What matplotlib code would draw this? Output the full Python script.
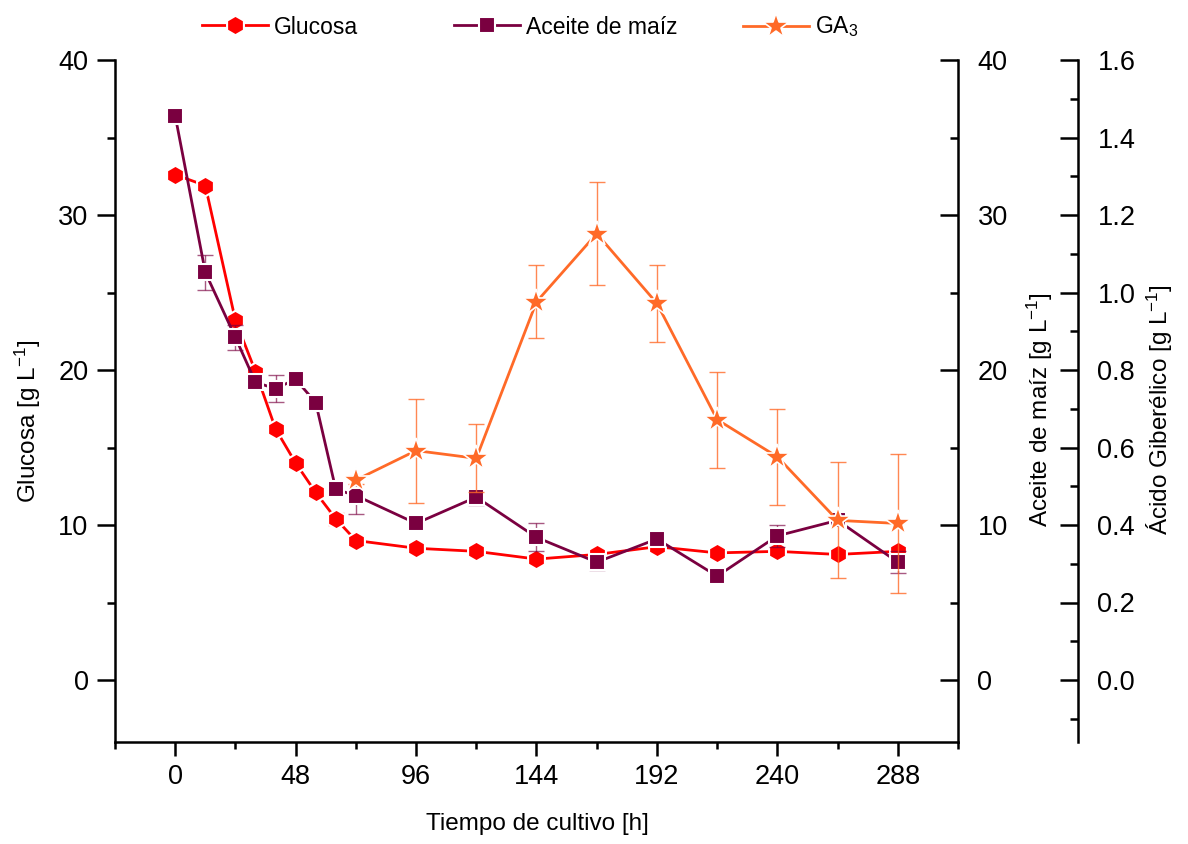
import matplotlib
matplotlib.use('Agg')
import matplotlib.pyplot as plt
from matplotlib.ticker import MultipleLocator
from matplotlib import font_manager as fm
from matplotlib.lines import Line2D

# ---------------- data ----------------
time_h = [0, 12, 24, 32, 40, 48, 56, 64, 72, 96, 120, 144, 168, 192, 216, 240, 264, 288]
glucosa = [32.6, 31.9, 23.2, 19.9, 16.2, 14.0, 12.1, 10.4, 9.0, 8.5, 8.3, 7.8, 8.1, 8.6, 8.2, 8.3, 8.1, 8.3]
glucosa_err = [0.1, 0.1, 0.2, 0.1, 0.1, 0.1, 0.1, 0.4, 0.1, 0.1, 0.1, 0.1, 0.1, 0.1, 0.1, 0.1, 0.1, 0.1]
aceite = [36.4, 26.3, 22.1, 19.2, 18.8, 19.4, 17.9, 12.3, 11.9, 10.1, 11.8, 9.2, 7.6, 9.1, 6.7, 9.3, 10.3, 7.6]
aceite_err = [0.1, 1.15, 0.8, 0.4, 0.85, 0.2, 0.2, 0.2, 1.2, 0.3, 0.5, 0.9, 0.5, 0.3, 0.2, 0.7, 0.3, 0.7]
ga_time = [72, 96, 120, 144, 168, 192, 216, 240, 264, 288]
ga3 = [0.516, 0.592, 0.572, 0.976, 1.152, 0.972, 0.672, 0.576, 0.412, 0.404]
ga3_err = [0.01, 0.134, 0.088, 0.094, 0.132, 0.10, 0.124, 0.124, 0.15, 0.18]

x_ticks = [0, 48, 96, 144, 192, 240, 288]
y_ticks = [0, 10, 20, 30, 40]
ga_ticks = [0.0, 0.2, 0.4, 0.6, 0.8, 1.0, 1.2, 1.4, 1.6]

# ---------------- fonts ----------------
names = {f.name for f in fm.fontManager.ttflist}
narrow = 'Liberation Sans Narrow' if 'Liberation Sans Narrow' in names else 'Liberation Sans'
plt.rcParams['font.family'] = ['Liberation Sans', 'DejaVu Sans']
plt.rcParams['mathtext.default'] = 'regular'

c_glu = '#FF0000'
c_ace = '#7A0040'
c_ga = '#FF6A28'

W, H = 1188, 844
fig = plt.figure(figsize=(W / 100, H / 100), dpi=100)
L, R, T, B = 115, 958, 60, 742
ax = fig.add_axes([L / W, 1 - B / H, (R - L) / W, (B - T) / H])
ax2 = ax.twinx()
ax3 = ax.twinx()
for a in (ax, ax2, ax3):
    a.patch.set_visible(False)

lw_sp = 1.8
tick_fs = 19.5
# ---- primary axis ----
ax.set_xlim(-24, 312)
ax.set_ylim(-4, 40)
ax.spines['top'].set_visible(False)
ax.spines['right'].set_visible(False)
ax.spines['left'].set_linewidth(lw_sp)
ax.spines['bottom'].set_linewidth(lw_sp)
ax.set_xticks(x_ticks)
ax.xaxis.set_minor_locator(MultipleLocator(24))
ax.set_yticks(y_ticks)
ax.yaxis.set_minor_locator(MultipleLocator(5))
ax.tick_params(axis='both', which='major', direction='out', length=10, width=lw_sp, labelsize=tick_fs, pad=6)
ax.tick_params(axis='both', which='minor', direction='out', length=5, width=lw_sp)
ax.tick_params(axis='y', which='major', length=13)
ax.tick_params(axis='y', which='minor', length=6)

# ---- aceite axis ----
ax2.set_ylim(-4, 40)
for s in ('top', 'left', 'bottom'):
    ax2.spines[s].set_visible(False)
ax2.spines['right'].set_linewidth(lw_sp)
ax2.set_yticks(y_ticks)
ax2.yaxis.set_minor_locator(MultipleLocator(5))
ax2.tick_params(axis='y', which='major', direction='in', length=13, width=lw_sp, labelsize=tick_fs, pad=14)
ax2.tick_params(axis='y', which='minor', direction='in', length=6, width=lw_sp)

# ---- GA3 axis ----
ax3.set_ylim(-0.16, 1.6)
ax3.spines['right'].set_position(('axes', (1078 - L) / (R - L)))
for s in ('top', 'left', 'bottom'):
    ax3.spines[s].set_visible(False)
ax3.spines['right'].set_linewidth(lw_sp)
ax3.set_yticks(ga_ticks)
ax3.set_yticklabels([f'{v:.1f}' for v in ga_ticks])
ax3.yaxis.set_minor_locator(MultipleLocator(0.1))
ax3.tick_params(axis='y', which='major', direction='in', length=13, width=lw_sp, labelsize=tick_fs, pad=14)
ax3.tick_params(axis='y', which='minor', direction='in', length=6, width=lw_sp)

# ---------------- data series ----------------
ax.errorbar(time_h, glucosa, yerr=glucosa_err, fmt='none', ecolor=c_glu, elinewidth=1.0,
            capsize=6, capthick=1.0, alpha=0.7, zorder=2)
ax.plot(time_h, glucosa, color=c_glu, lw=2.0, marker='h', ms=14, mfc=c_glu,
        mec='white', mew=1.5, zorder=3)

ax2.errorbar(time_h, aceite, yerr=aceite_err, fmt='none', ecolor=c_ace, elinewidth=1.0,
             capsize=6, capthick=1.0, alpha=0.65, zorder=2)
ax2.plot(time_h, aceite, color=c_ace, lw=2.0, marker='s', ms=12, mfc=c_ace,
         mec='white', mew=1.5, zorder=3)

ax3.errorbar(ga_time, ga3, yerr=ga3_err, fmt='none', ecolor=c_ga, elinewidth=1.0,
             capsize=6, capthick=1.0, alpha=0.8, zorder=2)
ax3.plot(ga_time, ga3, color=c_ga, lw=2.0, marker='*', ms=19, mfc=c_ga,
         mec='white', mew=1.2, zorder=3)

# ---------------- labels ----------------
lab_fs = 17.5
fam = [narrow, 'DejaVu Sans']
ax.set_xlabel('Tiempo de cultivo [h]', fontsize=lab_fs, family=fam, va='center')
ax.xaxis.set_label_coords(0.5006, -0.12)
ax.set_ylabel('Glucosa [g L$^{-1}$]', fontsize=lab_fs, family=fam, va='center')
ax.yaxis.set_label_coords((28 - L) / (R - L), 0.47)
ax2.set_ylabel('Aceite de maíz [g L$^{-1}$]', fontsize=lab_fs, family=fam, va='center')
ax2.yaxis.set_label_coords((1040 - L) / (R - L), 0.487)
ax3.set_ylabel('Ácido Giberélico [g L$^{-1}$]', fontsize=lab_fs, family=fam, va='center')
ax3.yaxis.set_label_coords((1160 - L) / (R - L), 0.487)

# ---------------- legend ----------------
leg_fs = 16.5
entries = [
    (Line2D([], [], color=c_glu, lw=2.0, marker='h', ms=14, mfc=c_glu, mec='white', mew=1.5), 'Glucosa', 202),
    (Line2D([], [], color=c_ace, lw=2.0, marker='s', ms=12, mfc=c_ace, mec='white', mew=1.5), 'Aceite de maíz', 454),
    (Line2D([], [], color=c_ga, lw=2.0, marker='*', ms=19, mfc=c_ga, mec='white', mew=1.2), 'GA$_3$', 743),
]
for h, lab, xp in entries:
    fig.legend(handles=[h], labels=[lab], loc='center left',
               bbox_to_anchor=(xp / W, 1 - 27 / H), frameon=False,
               borderpad=0, borderaxespad=0, handlelength=2.9, handletextpad=0.25,
               prop={'family': fam, 'size': leg_fs})

fig.savefig('out.png', dpi=100)
